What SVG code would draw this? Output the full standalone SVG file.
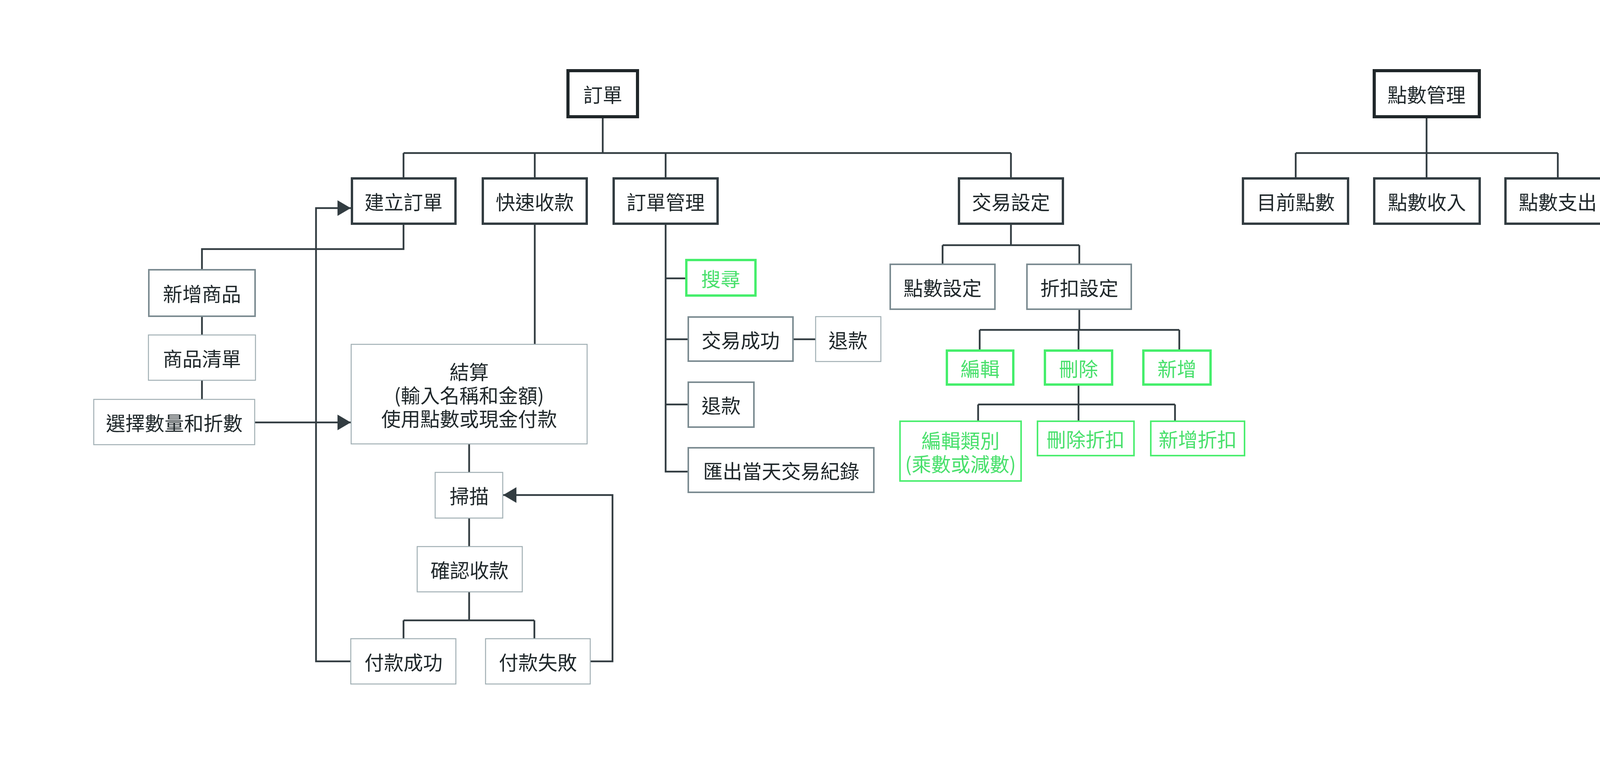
<svg xmlns="http://www.w3.org/2000/svg" width="7189" height="1939" viewBox="0 0 7189 1939">
<style>
.bg{fill:#ffffff}
rect{fill:#ffffff}
.top{stroke:#1f2629;stroke-width:8}
.l2{stroke:#323c41;stroke-width:6}
.mid{stroke:#7b8b91;stroke-width:4}
.slate{stroke:#4c5d64;stroke-width:6}
.lite{stroke:#a0aeb3;stroke-width:2.5}
.lite2{stroke:#a9b7bb;stroke-width:3}
.g{stroke:#45ee6b;stroke-width:6}
.gt{stroke:#4bee6f;stroke-width:4}
text{font-family:"Noto Sans CJK TC","Noto Sans CJK SC",sans-serif;font-size:50px;text-anchor:middle;dominant-baseline:central}
.t{fill:#20282b}
.tg{fill:#49e06c}
.c{fill:none;stroke:#323c41;stroke-width:4.5}
</style>
<defs>
<marker id="ah" markerUnits="userSpaceOnUse" markerWidth="36" markerHeight="40" refX="34" refY="20" orient="auto">
<path d="M0,0 L34,20 L0,40 z" fill="#323c41"/>
</marker>
</defs>
<rect class="bg" x="0" y="0" width="7189" height="1939"/>

<g id="connectors">
<path class="c" d="M1543 303 V392 M1033 392 H2588 M1033 392 V454 M1369 392 V454 M1704 392 V454 M2588 392 V454"/>
<path class="c" d="M1033 576 V638 H517 V689 M517 812 V857 M517 975 V1022"/>
<path class="c" d="M1369 576 V881 M1201 1138 V1209 M1201 1328 V1399 M1201 1517 V1589 M1033 1589 H1368 M1033 1589 V1635 M1368 1589 V1635"/>
<path class="c" d="M1704 576 V1208 H1760 M1704 713 H1754 M1704 869 H1760 M1704 1036 H1760 M2032 869 H2087"/>
<path class="c" d="M2588 576 V628 M2413 628 H2763 M2413 628 V675 M2763 628 V675"/>
<path class="c" d="M2763 794 V845 M2508 845 H3019 M2508 845 V895 M2761 845 V895 M3019 845 V895"/>
<path class="c" d="M2761 988 V1036 M2504 1036 H3008 M2504 1036 V1077 M2761 1036 V1077 M3008 1036 V1077"/>
<path class="c" d="M653 1082 H898" marker-end="url(#ah)"/>
<path class="c" d="M897 1694 H809 V533 H898" marker-end="url(#ah)"/>
<path class="c" d="M1512 1694 H1568 V1268 H1288" marker-end="url(#ah)"/>
<path class="c" d="M3652 303 V392 M3317 392 H3988 M3317 392 V454 M3652 392 V454 M3988 392 V454"/>
<path class="c" d="M4808 303 V455 M4808 574 V624 M4553 624 H5057 M4553 624 V663 M4808 624 V663 M5057 624 V663"/>
<path class="c" d="M4808 756 V804 M4553 804 H5057 M4553 804 V845 M4808 804 V845 M5057 804 V845 M4808 1003 V1160"/>
<path class="c" d="M4808 1281 V1329 M4553 1329 H5057 M4553 1329 V1368 M4808 1329 V1368 M5057 1329 V1368"/>
<path class="c" d="M4808 1462 V1508 M4553 1508 H5057 M4553 1508 V1550 M4808 1508 V1550 M5057 1508 V1550"/>
<path class="c" d="M6010 303 V392 M5528 392 H6965 M5528 392 V454 M5770 392 V454 M6010 392 V454 M6325 392 V454 M6685 392 V454 M6965 392 V454"/>
<path class="c" d="M5528 576 V704 M5770 576 V704 M6010 576 V704 M6325 637 V703 M6325 825 V903 M6685 576 V703"/>
</g>

<g id="n-order"><rect class="top" x="1454" y="181" width="178" height="118"/><text class="t" x="1543" y="240">訂單</text></g>
<g id="n-create"><rect class="l2" x="901" y="457" width="265" height="116"/><text class="t" x="1033" y="515">建立訂單</text></g>
<g id="n-quick"><rect class="l2" x="1236" y="457" width="266" height="116"/><text class="t" x="1369" y="515">快速收款</text></g>
<g id="n-ordmgmt"><rect class="l2" x="1571" y="457" width="266" height="116"/><text class="t" x="1704" y="515">訂單管理</text></g>
<g id="n-txset"><rect class="l2" x="2455" y="457" width="266" height="116"/><text class="t" x="2588" y="515">交易設定</text></g>

<g id="n-addprod"><rect class="mid" x="381" y="691" width="272" height="119"/><text class="t" x="517" y="750">新增商品</text></g>
<g id="n-prodlist"><rect class="lite" x="380" y="858" width="274" height="116"/><text class="t" x="517" y="916">商品清單</text></g>
<g id="n-selqty"><rect class="lite" x="240" y="1023" width="412" height="116"/><text class="t" x="446" y="1081">選擇數量和折數</text></g>
<g id="n-checkout"><rect class="lite" x="899" y="882" width="604" height="255"/><text class="t" x="1201"><tspan x="1201" y="950">結算</tspan><tspan x="1201" y="1010">(輸入名稱和金額)</tspan><tspan x="1201" y="1070">使用點數或現金付款</tspan></text></g>
<g id="n-scan"><rect class="lite" x="1114" y="1210" width="173" height="117"/><text class="t" x="1201" y="1268">掃描</text></g>
<g id="n-confirm"><rect class="lite" x="1068" y="1400" width="269" height="116"/><text class="t" x="1202" y="1458">確認收款</text></g>
<g id="n-paysucc"><rect class="lite" x="898" y="1636" width="269" height="116"/><text class="t" x="1033" y="1694">付款成功</text></g>
<g id="n-payfail"><rect class="lite" x="1243" y="1636" width="268" height="116"/><text class="t" x="1377" y="1694">付款失敗</text></g>

<g id="n-search"><rect class="g" x="1757" y="666" width="177" height="91"/><text class="tg" x="1845" y="712">搜尋</text></g>
<g id="n-txok"><rect class="mid" x="1762" y="812" width="268" height="113"/><text class="t" x="1896" y="869">交易成功</text></g>
<g id="n-refund1"><rect class="lite" x="2088" y="811" width="167" height="115"/><text class="t" x="2171" y="869">退款</text></g>
<g id="n-refund2"><rect class="mid" x="1762" y="979" width="168" height="115"/><text class="t" x="1846" y="1036">退款</text></g>
<g id="n-export"><rect class="mid" x="1762" y="1147" width="475" height="114"/><text class="t" x="2000" y="1204">匯出當天交易紀錄</text></g>

<g id="n-ptset"><rect class="mid" x="2279" y="677" width="268" height="115"/><text class="t" x="2413" y="735">點數設定</text></g>
<g id="n-discset"><rect class="mid" x="2629" y="677" width="267" height="115"/><text class="t" x="2763" y="735">折扣設定</text></g>
<g id="n-d-edit"><rect class="g" x="2424" y="898" width="170" height="87"/><text class="tg" x="2509" y="942">編輯</text></g>
<g id="n-d-del"><rect class="g" x="2675" y="898" width="172" height="87"/><text class="tg" x="2761" y="942">刪除</text></g>
<g id="n-d-add"><rect class="g" x="2927" y="898" width="172" height="87"/><text class="tg" x="3013" y="942">新增</text></g>
<g id="n-d-editcat"><rect class="gt" x="2304" y="1079" width="310" height="153"/><text class="tg" x="2459"><tspan x="2459" y="1126">編輯類別</tspan><tspan x="2459" y="1186">(乘數或減數)</tspan></text></g>
<g id="n-d-deldisc"><rect class="gt" x="2656" y="1079" width="247" height="88"/><text class="tg" x="2779" y="1123">刪除折扣</text></g>
<g id="n-d-adddisc"><rect class="gt" x="2946" y="1079" width="240" height="88"/><text class="tg" x="3066" y="1123">新增折扣</text></g>

<g id="n-points"><rect class="top" x="3518" y="181" width="269" height="118"/><text class="t" x="3652" y="240">點數管理</text></g>
<g id="n-curpts"><rect class="l2" x="3182" y="457" width="269" height="116"/><text class="t" x="3317" y="515">目前點數</text></g>
<g id="n-ptsin"><rect class="l2" x="3518" y="457" width="270" height="116"/><text class="t" x="3653" y="515">點數收入</text></g>
<g id="n-ptsout"><rect class="l2" x="3854" y="457" width="269" height="116"/><text class="t" x="3988" y="515">點數支出</text></g>

<g id="n-prodmgmt"><rect class="top" x="4676" y="181" width="270" height="118"/><text class="t" x="4811" y="240">商品管理</text></g>
<g id="n-cat"><rect class="slate" x="4720" y="458" width="172" height="113"/><text class="t" x="4806" y="515">類別</text></g>
<g id="n-c-edit"><rect class="g" x="4467" y="666" width="172" height="87"/><text class="tg" x="4553" y="710">編輯</text></g>
<g id="n-c-del"><rect class="g" x="4720" y="666" width="172" height="87"/><text class="tg" x="4806" y="710">刪除</text></g>
<g id="n-c-add"><rect class="g" x="4971" y="666" width="173" height="87"/><text class="tg" x="5057" y="710">新增</text></g>
<g id="n-c-editname"><rect class="gt" x="4272" y="847" width="368" height="154"/><text class="tg" x="4456"><tspan x="4456" y="894">編輯類別名稱</tspan><tspan x="4456" y="954">(重新命名)</tspan></text></g>
<g id="n-c-delcat"><rect class="gt" x="4673" y="847" width="276" height="154"/><text class="tg" x="4811"><tspan x="4811" y="894">刪除類別</tspan><tspan x="4811" y="954">(包含細項)</tspan></text></g>
<g id="n-c-addcat"><rect class="gt" x="4981" y="847" width="275" height="89"/><text class="tg" x="5118" y="892">新增類別</text></g>
<g id="n-item"><rect class="mid" x="4719" y="1162" width="174" height="117"/><text class="t" x="4806" y="1221">細項</text></g>
<g id="n-i-edit"><rect class="g" x="4467" y="1371" width="172" height="88"/><text class="tg" x="4553" y="1415">編輯</text></g>
<g id="n-i-del"><rect class="g" x="4720" y="1371" width="172" height="88"/><text class="tg" x="4806" y="1415">刪除</text></g>
<g id="n-i-add"><rect class="g" x="4971" y="1371" width="173" height="88"/><text class="tg" x="5057" y="1415">新增</text></g>
<g id="n-i-edititem"><rect class="gt" x="4331" y="1552" width="309" height="216"/><text class="tg" x="4485"><tspan x="4485" y="1600">編輯細項</tspan><tspan x="4485" y="1660">名稱和價錢</tspan><tspan x="4485" y="1720">(重新命名)</tspan></text></g>
<g id="n-i-delitem"><rect class="gt" x="4673" y="1552" width="276" height="88"/><text class="tg" x="4811" y="1596">刪除細項</text></g>
<g id="n-i-additem"><rect class="gt" x="4981" y="1552" width="275" height="88"/><text class="tg" x="5118" y="1596">新增細項</text></g>

<g id="n-settings"><rect class="top" x="5923" y="181" width="175" height="118"/><text class="t" x="6010" y="240">設定</text></g>
<g id="n-staff"><rect class="l2" x="5441" y="457" width="175" height="116"/><text class="t" x="5528" y="515">店員</text></g>
<g id="n-shop"><rect class="l2" x="5682" y="457" width="175" height="116"/><text class="t" x="5770" y="515">店名</text></g>
<g id="n-lang"><rect class="l2" x="5923" y="457" width="175" height="116"/><text class="t" x="6010" y="515">語言</text></g>
<g id="n-scanlogin"><rect class="l2" x="6164" y="457" width="322" height="177"/><text class="t" style="text-anchor:start"><tspan x="6203" y="515">掃描條碼</tspan><tspan x="6203" y="576">登入電腦版</tspan></text></g>
<g id="n-chpwd"><rect class="l2" x="6546" y="457" width="278" height="116"/><text class="t" x="6685" y="515">更改密碼</text></g>
<g id="n-logout"><rect class="l2" x="6884" y="457" width="175" height="116"/><text class="t" x="6971" y="515">登出</text></g>
<g id="n-editstaff"><rect class="mid" x="5441" y="706" width="174" height="174"/><text class="t" x="5528"><tspan x="5528" y="763">編輯</tspan><tspan x="5528" y="823">店員</tspan></text></g>
<g id="n-editshop"><rect class="mid" x="5683" y="706" width="174" height="174"/><text class="t" x="5770"><tspan x="5770" y="763">編輯</tspan><tspan x="5770" y="823">店名</tspan></text></g>
<g id="n-zhen"><rect class="mid" x="5923" y="706" width="174" height="231"/><text class="t" x="6010"><tspan x="6010" y="762">中文</tspan><tspan x="6010" y="822">或</tspan><tspan x="6010" y="882">英文</tspan></text></g>
<g id="n-reader"><rect class="mid" x="6165" y="705" width="320" height="118"/><text class="t" x="6325" y="764">條碼讀取器</text></g>
<g id="n-mobile"><rect class="lite2" x="6165" y="904" width="468" height="120"/><text class="t" x="6399" y="964">使用行動條碼登入</text></g>
<g id="n-newpwd"><rect class="mid" x="6517" y="705" width="396" height="118"/><text class="t" x="6715" y="764">原密碼改新密碼</text></g>
</svg>
